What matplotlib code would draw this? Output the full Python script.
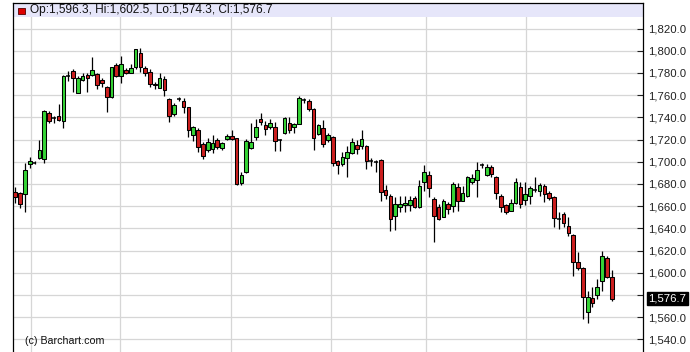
import numpy as np
import matplotlib
matplotlib.use("Agg")
import matplotlib.pyplot as plt
from matplotlib.patches import Rectangle

# daily OHLC (oldest first)
opens = [1673.1, 1671.6, 1670.7, 1697.7, 1699.2, 1703.7, 1702.2, 1744.2, 1740.0, 1741.2,
         1737.0, 1777.0, 1782.0, 1762.2, 1773.6, 1778.1, 1778.1, 1779.0, 1773.6, 1767.0,
         1758.0, 1787.1, 1777.2, 1782.6, 1780.2, 1785.0, 1797.6, 1784.7, 1781.1, 1770.3,
         1766.7, 1774.2, 1756.2, 1742.7, 1756.5, 1754.7, 1749.0, 1724.1, 1728.6, 1716.0,
         1710.6, 1711.2, 1719.6, 1712.1, 1720.5, 1723.5, 1721.1, 1680.6, 1691.1, 1712.1,
         1722.0, 1738.2, 1732.7, 1731.2, 1731.5, 1719.4, 1726.1, 1735.2, 1731.5, 1734.2,
         1755.8, 1754.8, 1747.9, 1725.2, 1730.6, 1719.4, 1722.4, 1700.9, 1698.2, 1703.3,
         1707.9, 1715.5, 1713.9, 1714.5, 1701.2, 1700.3, 1701.5, 1674.5, 1669.4, 1650.8,
         1659.5, 1661.0, 1661.0, 1667.0, 1658.9, 1682.0, 1688.3, 1666.4, 1659.5, 1650.5,
         1661.9, 1660.4, 1677.5, 1664.9, 1669.4, 1681.4, 1683.5, 1697.0, 1688.3, 1694.9,
         1686.5, 1669.4, 1661.1, 1656.0, 1662.9, 1677.6, 1665.6, 1669.5, 1675.2, 1674.0,
         1678.5, 1671.9, 1668.0, 1648.8, 1653.0, 1641.9, 1634.1, 1610.1, 1604.4, 1564.5,
         1577.1, 1580.1, 1592.4, 1613.4, 1596.3]
highs = [1677.6, 1673.0, 1698.6, 1704.6, 1700.7, 1719.6, 1746.6, 1745.7, 1741.0, 1751.7,
         1778.1, 1782.0, 1783.2, 1777.2, 1780.2, 1779.6, 1794.0, 1780.2, 1775.1, 1768.2,
         1785.6, 1788.6, 1795.2, 1784.1, 1788.0, 1802.0, 1802.1, 1786.2, 1783.2, 1772.1,
         1779.6, 1777.2, 1757.1, 1752.6, 1758.6, 1757.1, 1749.6, 1732.2, 1730.1, 1718.1,
         1721.7, 1724.1, 1721.1, 1718.1, 1724.7, 1728.6, 1721.7, 1691.1, 1720.2, 1734.6,
         1738.2, 1743.6, 1736.7, 1738.8, 1735.8, 1720.6, 1740.3, 1740.6, 1735.2, 1758.8,
         1757.0, 1756.4, 1748.8, 1733.6, 1737.3, 1726.1, 1723.0, 1701.8, 1708.5, 1714.5,
         1721.5, 1720.0, 1728.5, 1715.5, 1703.3, 1701.5, 1702.4, 1679.3, 1670.9, 1667.9,
         1669.4, 1669.4, 1669.4, 1669.4, 1683.5, 1697.3, 1691.9, 1667.9, 1661.9, 1666.4,
         1663.4, 1681.4, 1680.5, 1678.4, 1687.4, 1688.9, 1700.0, 1698.5, 1697.9, 1697.3,
         1687.4, 1670.9, 1662.0, 1666.5, 1685.4, 1681.5, 1681.5, 1678.5, 1686.6, 1680.6,
         1680.0, 1674.0, 1669.5, 1654.5, 1654.5, 1650.0, 1635.0, 1619.1, 1605.0, 1584.0,
         1587.0, 1594.5, 1619.4, 1615.5, 1602.5]
lows = [1662.6, 1658.7, 1655.0, 1694.7, 1697.7, 1702.5, 1699.2, 1735.2, 1735.0, 1736.7,
        1730.7, 1773.0, 1763.1, 1761.6, 1773.0, 1763.1, 1777.5, 1765.2, 1767.6, 1745.1,
        1757.7, 1776.0, 1770.6, 1778.7, 1779.6, 1784.0, 1781.1, 1777.2, 1767.6, 1765.2,
        1766.1, 1759.5, 1736.1, 1741.5, 1754.6, 1744.2, 1722.6, 1719.0, 1709.1, 1702.5,
        1709.1, 1707.6, 1711.2, 1710.6, 1719.6, 1719.6, 1679.4, 1679.1, 1690.2, 1711.2,
        1719.6, 1733.0, 1724.5, 1729.7, 1709.4, 1710.0, 1725.2, 1725.5, 1726.1, 1733.6,
        1753.3, 1745.8, 1710.3, 1724.5, 1713.3, 1717.6, 1696.4, 1688.8, 1695.8, 1686.7,
        1707.3, 1707.3, 1711.5, 1693.6, 1695.8, 1690.4, 1664.3, 1666.4, 1637.9, 1638.5,
        1654.4, 1654.4, 1655.3, 1658.3, 1658.3, 1673.9, 1667.9, 1627.4, 1647.5, 1649.9,
        1652.9, 1654.4, 1655.9, 1664.3, 1667.9, 1679.9, 1667.9, 1694.0, 1687.4, 1686.5,
        1666.4, 1654.4, 1653.0, 1655.4, 1662.0, 1658.4, 1661.4, 1662.0, 1672.5, 1669.5,
        1663.5, 1665.6, 1641.0, 1639.5, 1641.0, 1633.5, 1596.9, 1602.6, 1558.5, 1554.9,
        1569.0, 1576.5, 1584.0, 1595.1, 1574.3]
closes = [1668.0, 1661.7, 1692.6, 1700.4, 1699.0, 1710.6, 1745.7, 1736.7, 1739.6, 1737.6,
          1777.2, 1777.4, 1775.1, 1775.7, 1777.2, 1775.1, 1782.6, 1769.1, 1770.6, 1758.0,
          1785.0, 1777.5, 1788.0, 1779.6, 1784.1, 1801.2, 1785.0, 1779.6, 1769.7, 1768.8,
          1775.1, 1764.6, 1741.2, 1751.1, 1756.4, 1749.6, 1728.6, 1731.0, 1713.6, 1705.5,
          1717.5, 1716.6, 1713.0, 1716.6, 1723.5, 1720.5, 1680.0, 1688.1, 1719.0, 1718.1,
          1731.0, 1736.1, 1729.7, 1735.2, 1718.5, 1719.3, 1739.7, 1728.5, 1733.6, 1757.0,
          1755.5, 1747.9, 1721.5, 1732.7, 1716.1, 1723.9, 1698.8, 1696.7, 1704.2, 1708.5,
          1717.6, 1711.8, 1720.6, 1700.3, 1701.0, 1700.0, 1672.4, 1670.0, 1648.4, 1661.9,
          1661.9, 1662.8, 1665.5, 1658.9, 1678.4, 1690.4, 1676.3, 1651.4, 1648.4, 1664.3,
          1657.4, 1679.9, 1664.9, 1671.5, 1686.5, 1685.3, 1692.5, 1697.0, 1695.5, 1688.9,
          1671.5, 1658.9, 1655.1, 1662.9, 1681.5, 1662.0, 1671.0, 1676.4, 1674.9, 1679.1,
          1671.0, 1667.1, 1649.1, 1648.5, 1644.9, 1635.9, 1610.1, 1604.4, 1578.6, 1578.6,
          1572.9, 1587.0, 1615.5, 1596.0, 1576.7]

# first session of each month (bar index)
month_lines = [3.2, 21.8, 44.8, 65.6, 85.3, 106.1]
price_ticks = list(range(1540, 1821, 20))
header = "Op:1,596.3, Hi:1,602.5, Lo:1,574.3, Cl:1,576.7"

o = np.array(opens)
h = np.array(highs)
l = np.array(lows)
c = np.array(closes)
x = np.arange(len(o))

plt.rcParams['font.family'] = ['Liberation Sans', 'DejaVu Sans']

fig = plt.figure(figsize=(6.9, 3.52), dpi=100)
ax = fig.add_axes([13/690, -8/352, 630/690, 357/352])
ax.set_xlim(-0.48, 130.5)
ax.set_ylim(1521.5, 1843.0)

# grid
for p in price_ticks:
    ax.axhline(p, color='#d6d6d6', lw=0.9, zorder=0)
for m in month_lines:
    ax.axvline(m, color='#d6d6d6', lw=0.9, zorder=0)

# header band
ax.axhspan(1830.4, 1843.0, color='#e6e6fa', zorder=1, lw=0)

green = '#36d436'
red = '#cc1f1f'
doji = np.abs(c - o) < 0.6
up = (c > o) & ~doji
dn = (c <= o) & ~doji

ax.vlines(x, l, h, color='black', lw=0.9, zorder=2)
ax.bar(x[up], (c - o)[up], bottom=o[up], width=0.76, color=green,
       edgecolor='black', lw=0.75, zorder=3)
ax.bar(x[dn], (o - c)[dn], bottom=c[dn], width=0.76, color=red,
       edgecolor='black', lw=0.75, zorder=3)
ax.hlines(c[doji], x[doji] - 0.4, x[doji] + 0.4, color='black', lw=1.1, zorder=3)

# axes styling; the last-price tag covers the 1,580 label
last = closes[-1]
ax.set_xticks([])
ax.yaxis.tick_right()
ax.set_yticks(price_ticks)
ax.set_yticklabels(["" if abs(p - last) < 10 else f"{p:,.1f}" for p in price_ticks])
ax.tick_params(axis='y', direction='in', length=4, width=0.8, pad=4,
               labelsize=8.2, colors='#222222')
for s in ['left', 'right', 'top', 'bottom']:
    ax.spines[s].set_color('black')
    ax.spines[s].set_linewidth(0.9)

# last price tag
ax.annotate(f"{last:,.1f}", xy=(1.0, last), xycoords=('axes fraction', 'data'),
            xytext=(4, 0), textcoords='offset points', va='center', ha='left',
            fontsize=8.2, color='white',
            bbox=dict(boxstyle='square,pad=0.15', fc='black', ec='black'))

# header text
fig.patches.append(Rectangle((18/690, (352-14)/352), 7/690, 6/352, transform=fig.transFigure,
                             facecolor='#dd0000', edgecolor='#550000', lw=0.6, zorder=5))
fig.text(30/690, 1 - 10.5/352, header, fontsize=8.6, va='center', ha='left', color='#111111')
fig.text(25/690, 1 - 341/352, "(c) Barchart.com", fontsize=7.7, va='center', ha='left',
         color='#111111')

fig.savefig('out.png', dpi=100)
